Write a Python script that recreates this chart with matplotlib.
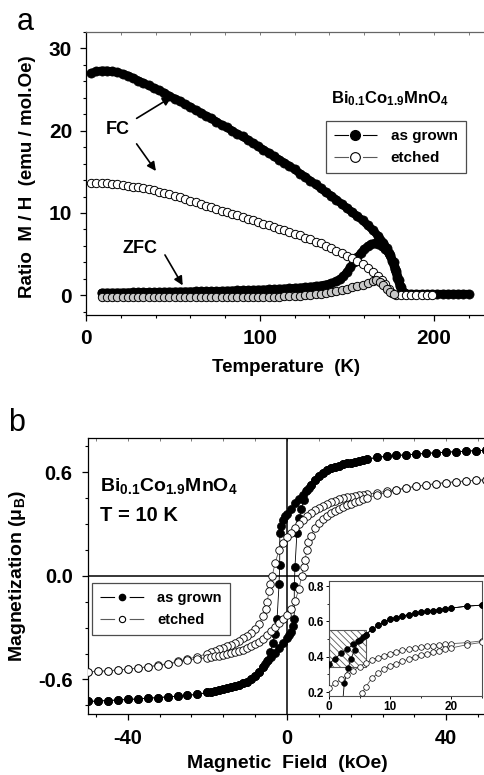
import matplotlib
matplotlib.use('Agg')
import matplotlib.pyplot as plt
from matplotlib.lines import Line2D
from matplotlib.patches import Rectangle
from matplotlib.ticker import MultipleLocator

plt.rcParams['font.family'] = 'Liberation Sans'
plt.rcParams['font.weight'] = 'bold'
plt.rcParams['mathtext.fontset'] = 'custom'
plt.rcParams['mathtext.rm'] = 'Liberation Sans:bold'
plt.rcParams['mathtext.bf'] = 'Liberation Sans:bold'
plt.rcParams['mathtext.it'] = 'Liberation Sans:bold'
plt.rcParams['mathtext.default'] = 'bf'
plt.rcParams['hatch.linewidth'] = 0.6
plt.rcParams['lines.scale_dashes'] = False

# ---- panel a : M/H vs temperature ----
t_fc_grown = [3, 6, 9, 12, 15, 18, 21, 24, 27, 30, 33, 36, 39, 42, 45, 48, 51, 54, 57, 60,
              63, 66, 69, 72, 75, 78, 81, 84, 87, 90, 93, 96, 99, 102, 105, 108, 111, 114,
              117, 120, 123, 126, 129, 132, 135, 138, 141, 144, 147, 150, 153, 156, 159,
              162, 165, 168, 171, 173, 175, 177, 178.5, 180, 181, 182, 184, 187, 190, 193,
              196, 199, 202, 205, 208, 211, 214, 217, 220]
m_fc_grown = [27.0, 27.2, 27.3, 27.3, 27.2, 27.1, 26.9, 26.7, 26.4, 26.1, 25.8, 25.5, 25.2,
              24.9, 24.6, 24.2, 23.9, 23.6, 23.2, 22.9, 22.5, 22.2, 21.8, 21.5, 21.1, 20.7,
              20.4, 20.0, 19.6, 19.3, 18.9, 18.5, 18.1, 17.7, 17.3, 16.9, 16.5, 16.1, 15.7,
              15.3, 14.8, 14.4, 13.9, 13.5, 13.0, 12.5, 12.1, 11.6, 11.1, 10.6, 10.1, 9.6,
              9.1, 8.5, 7.9, 7.2, 6.4, 5.7, 4.9, 4.0, 3.0, 1.9, 1.0, 0.4, 0.2, 0.15, 0.15,
              0.15, 0.15, 0.15, 0.15, 0.15, 0.15, 0.15, 0.15, 0.15, 0.15]

t_zfc_grown = [9, 12, 15, 18, 21, 24, 27, 30, 33, 36, 39, 42, 45, 48, 51, 54, 57, 60, 63, 66,
               69, 72, 75, 78, 81, 84, 87, 90, 93, 96, 99, 102, 105, 108, 111, 114, 117, 120,
               123, 126, 129, 132, 135, 138, 141, 144, 146, 148, 150, 152, 154, 156, 158,
               160, 162, 164, 166, 168, 170, 172, 174, 176, 177.5, 179, 180.5, 182, 184]
m_zfc_grown = [0.30, 0.30, 0.30, 0.31, 0.32, 0.33, 0.34, 0.35, 0.36, 0.37, 0.38, 0.39, 0.40,
               0.41, 0.42, 0.43, 0.44, 0.45, 0.46, 0.47, 0.48, 0.49, 0.50, 0.52, 0.54, 0.56,
               0.58, 0.60, 0.62, 0.64, 0.66, 0.68, 0.71, 0.74, 0.77, 0.80, 0.84, 0.88, 0.92,
               0.97, 1.03, 1.10, 1.18, 1.30, 1.45, 1.70, 1.95, 2.3, 2.8, 3.4, 4.0, 4.6, 5.1,
               5.6, 5.95, 6.2, 6.3, 6.25, 6.0, 5.6, 5.1, 4.2, 3.2, 2.1, 1.1, 0.4, 0.2]

t_fc_etched = [3, 6, 9, 12, 15, 18, 21, 24, 27, 30, 33, 36, 39, 42, 45, 48, 51, 54, 57, 60,
               63, 66, 69, 72, 75, 78, 81, 84, 87, 90, 93, 96, 99, 102, 105, 108, 111, 114,
               117, 120, 123, 126, 129, 132, 135, 138, 141, 144, 147, 150, 153, 156, 159,
               162, 165, 168, 170, 172, 174, 176, 178, 181, 184, 187, 190, 193, 196, 199]
m_fc_etched = [13.6, 13.65, 13.65, 13.6, 13.55, 13.5, 13.4, 13.3, 13.2, 13.1, 13.0, 12.9,
               12.75, 12.6, 12.45, 12.3, 12.1, 11.9, 11.7, 11.5, 11.3, 11.1, 10.9, 10.7, 10.5,
               10.3, 10.1, 9.9, 9.7, 9.5, 9.3, 9.1, 8.9, 8.7, 8.5, 8.3, 8.1, 7.9, 7.7, 7.5,
               7.3, 7.0, 6.8, 6.5, 6.3, 6.0, 5.7, 5.4, 5.1, 4.8, 4.5, 4.2, 3.8, 3.3, 2.8, 2.3,
               1.9, 1.4, 0.8, 0.3, 0.05, 0.0, 0.0, 0.0, 0.0, 0.0, 0.0, 0.0]

t_zfc_etched = [9, 12, 15, 18, 21, 24, 27, 30, 33, 36, 39, 42, 45, 48, 51, 54, 57, 60, 63,
                66, 69, 72, 75, 78, 81, 84, 87, 90, 93, 96, 99, 102, 105, 108, 111, 114, 117,
                120, 123, 126, 129, 132, 135, 138, 141, 144, 147, 150, 153, 156, 159, 162,
                165, 167, 169, 171, 173, 175, 177]
m_zfc_etched = [-0.25, -0.25, -0.25, -0.25, -0.25, -0.25, -0.25, -0.25, -0.25, -0.25, -0.25,
                -0.25, -0.25, -0.25, -0.25, -0.25, -0.25, -0.25, -0.25, -0.25, -0.25, -0.25,
                -0.25, -0.25, -0.25, -0.24, -0.24, -0.23, -0.23, -0.22, -0.22, -0.21, -0.20,
                -0.18, -0.16, -0.13, -0.10, -0.07, -0.03, 0.02, 0.07, 0.13, 0.20, 0.28, 0.38,
                0.50, 0.64, 0.80, 0.95, 1.10, 1.28, 1.50, 1.75, 1.90, 1.60, 1.20, 0.80, 0.40,
                0.10]

# ---- panel b : hysteresis loops at 10 K ----
h_grown_down = [50, 47.5, 45, 42.5, 40, 37.5, 35, 32.5, 30, 27.5, 25, 22.5,
                20, 19, 18, 17, 16, 15, 14, 13, 12, 11, 10, 9, 8, 7, 6, 5, 4, 3, 2, 1, 0,
                -0.5, -1, -1.5, -1.8, -1.84, -2.0, -2.5, -3.1, -3.6, -4.2, -4.8, -5.5,
                -6, -7, -8, -9, -10, -11, -12, -13, -14, -15, -16, -17, -18, -19, -20,
                -22.5, -25, -27.5, -30, -32.5, -35, -37.5, -40, -42.5, -45, -47.5, -50]
m_grown_down = [0.727, 0.725, 0.722, 0.719, 0.716, 0.713, 0.709, 0.705, 0.701, 0.697, 0.692,
                0.686, 0.675, 0.671, 0.666, 0.661, 0.656, 0.651, 0.645, 0.638, 0.630, 0.622,
                0.612, 0.598, 0.578, 0.555, 0.525, 0.495, 0.470, 0.445, 0.420, 0.390, 0.360,
                0.345, 0.325, 0.290, 0.250, 0.060, -0.050, -0.250, -0.335, -0.390, -0.440,
                -0.490, -0.510, -0.525, -0.555, -0.578, -0.598, -0.612, -0.622, -0.630,
                -0.638, -0.645, -0.651, -0.656, -0.661, -0.666, -0.671, -0.675, -0.686,
                -0.692, -0.697, -0.701, -0.705, -0.709, -0.713, -0.716, -0.719, -0.722,
                -0.725, -0.727]

h_grown_up = [-50, -47.5, -45, -42.5, -40, -37.5, -35, -32.5, -30, -27.5, -25, -22.5,
              -20, -19, -18, -17, -16, -15, -14, -13, -12, -11, -10, -9, -8, -7, -6, -5, -4,
              -3, -2, -1, 0, 0.5, 1, 1.5, 1.8, 1.84, 2.0, 2.5, 3.1, 3.6, 4.2, 4.8, 5.5,
              6, 7, 8, 9, 10, 11, 12, 13, 14, 15, 16, 17, 18, 19, 20,
              22.5, 25, 27.5, 30, 32.5, 35, 37.5, 40, 42.5, 45, 47.5, 50]
m_grown_up = [-0.727, -0.725, -0.722, -0.719, -0.716, -0.713, -0.709, -0.705, -0.701,
              -0.697, -0.692, -0.686, -0.675, -0.671, -0.666, -0.661, -0.656, -0.651,
              -0.645, -0.638, -0.630, -0.622, -0.612, -0.598, -0.578, -0.555, -0.525,
              -0.495, -0.470, -0.445, -0.420, -0.390, -0.360, -0.345, -0.325, -0.290,
              -0.250, -0.060, 0.050, 0.250, 0.335, 0.390, 0.440, 0.490, 0.510, 0.525, 0.555,
              0.578, 0.598, 0.612, 0.622, 0.630, 0.638, 0.645, 0.651, 0.656, 0.661, 0.666,
              0.671, 0.675, 0.686, 0.692, 0.697, 0.701, 0.705, 0.709, 0.713, 0.716, 0.719,
              0.722, 0.725, 0.727]

h_etched_down = [50, 47.5, 45, 42.5, 40, 37.5, 35, 32.5, 30, 27.5, 25, 22.5,
                 20, 19, 18, 17, 16, 15, 14, 13, 12, 11, 10, 9, 8, 7, 6, 5, 4, 3, 2, 1, 0,
                 -1, -2, -3, -3.7, -4.2, -4.5, -5, -5.4,
                 -6, -7, -8, -9, -10, -11, -12, -13, -14, -15, -16, -17, -18, -19, -20,
                 -22.5, -25, -27.5, -30, -32.5, -35, -37.5, -40, -42.5, -45, -47.5, -50]
m_etched_down = [0.556, 0.553, 0.550, 0.545, 0.540, 0.534, 0.527, 0.520, 0.511, 0.500, 0.490,
                 0.480, 0.474, 0.471, 0.467, 0.463, 0.459, 0.454, 0.449, 0.443, 0.436, 0.428,
                 0.418, 0.407, 0.395, 0.381, 0.365, 0.345, 0.322, 0.298, 0.275, 0.250, 0.225,
                 0.190, 0.148, 0.075, 0.0, -0.05, -0.09, -0.15, -0.194,
                 -0.230, -0.279, -0.307, -0.330, -0.348, -0.362, -0.375, -0.386, -0.398,
                 -0.408, -0.417, -0.426, -0.435, -0.443, -0.450,
                 -0.468, -0.482, -0.495, -0.508, -0.518, -0.526, -0.534, -0.540, -0.545,
                 -0.550, -0.553, -0.556]

h_etched_up = [-50, -47.5, -45, -42.5, -40, -37.5, -35, -32.5, -30, -27.5, -25, -22.5,
               -20, -19, -18, -17, -16, -15, -14, -13, -12, -11, -10, -9, -8, -7, -6, -5, -4,
               -3, -2, -1, 0, 1, 2, 3, 3.7, 4.2, 4.5, 5, 5.4,
               6, 7, 8, 9, 10, 11, 12, 13, 14, 15, 16, 17, 18, 19, 20,
               22.5, 25, 27.5, 30, 32.5, 35, 37.5, 40, 42.5, 45, 47.5, 50]
m_etched_up = [-0.556, -0.553, -0.550, -0.545, -0.540, -0.534, -0.527, -0.520, -0.511, -0.500,
               -0.490, -0.480, -0.474, -0.471, -0.467, -0.463, -0.459, -0.454, -0.449,
               -0.443, -0.436, -0.428, -0.418, -0.407, -0.395, -0.381, -0.365, -0.345,
               -0.322, -0.298, -0.275, -0.250, -0.225,
               -0.190, -0.148, -0.075, 0.0, 0.05, 0.09, 0.15, 0.194,
               0.230, 0.279, 0.307, 0.330, 0.348, 0.362, 0.375, 0.386, 0.398, 0.408, 0.417,
               0.426, 0.435, 0.443, 0.450,
               0.468, 0.482, 0.495, 0.508, 0.518, 0.526, 0.534, 0.540, 0.545, 0.550, 0.553,
               0.556]

GRAY = '#5a5a5a'
fig = plt.figure(figsize=(4.84, 7.75), dpi=100)


def style_ticks(ax, size, pad):
    ax.tick_params(which='major', direction='out', length=4, width=0.9,
                   labelsize=size, pad=pad)
    ax.tick_params(which='minor', direction='out', length=2.5, width=0.8)
    for lab in ax.get_xticklabels() + ax.get_yticklabels():
        lab.set_fontweight('bold')
    for s in ax.spines.values():
        s.set_linewidth(0.9)


def grown_series(ax, x, y, ms):
    # thick black band behind the dense filled points
    ax.plot(x, y, '-', color='k', lw=ms * 0.9, solid_capstyle='round', zorder=2)
    ax.plot(x, y, 'o', ms=ms, mfc='k', mec='k', mew=0.5, zorder=2)


# panel a
ax1 = fig.add_axes([86 / 484, 460 / 775, 400 / 484, 283 / 775])
grown_series(ax1, t_fc_grown, m_fc_grown, 6.6)
grown_series(ax1, t_zfc_grown, m_zfc_grown, 6.6)
ax1.plot(t_fc_etched, m_fc_etched, '-o', color=GRAY, lw=0.6, ms=6.0, mfc='white', mec='k',
         mew=0.7, zorder=3)
ax1.plot(t_zfc_etched, m_zfc_etched, '-o', color=GRAY, lw=0.6, ms=6.0, mfc='#c8c8c8',
         mec='k', mew=0.7, zorder=3)
ax1.set_xlim(0, 230)
ax1.set_ylim(-2.4, 32)
ax1.xaxis.set_major_locator(MultipleLocator(100))
ax1.xaxis.set_minor_locator(MultipleLocator(20))
ax1.yaxis.set_major_locator(MultipleLocator(10))
ax1.yaxis.set_minor_locator(MultipleLocator(2))
ax1.spines['right'].set_visible(False)
style_ticks(ax1, 15, 6)
ax1.spines['top'].set_color('0.4')
top1 = ax1.secondary_xaxis('top')
top1.xaxis.set_major_locator(MultipleLocator(20))
top1.tick_params(direction='in', length=2, width=0.6, labeltop=False, color='0.4')
top1.spines['top'].set_visible(False)
ax1.set_xlabel('Temperature  (K)', fontsize=13.5, fontweight='bold')
ax1.set_ylabel('Ratio  M / H  (emu / mol.Oe)', fontsize=13.5, fontweight='bold')
ax1.xaxis.set_label_coords(0.5, -0.155)
ax1.yaxis.set_label_coords(-0.125, 0.49)

ax1.text(174.7, 23.9, 'Bi$_{0.1}$Co$_{1.9}$MnO$_4$', fontsize=12, fontweight='bold',
         ha='center', va='center')
ax1.text(18.4, 20.2, 'FC', fontsize=13, fontweight='bold', ha='center', va='center')
ax1.text(31.0, 5.7, 'ZFC', fontsize=13, fontweight='bold', ha='center', va='center')
arrow = dict(arrowstyle='-|>', color='k', lw=1.2, mutation_scale=13, shrinkA=0, shrinkB=0)
ax1.annotate('', xy=(49.2, 24.1), xytext=(29.1, 21.5), arrowprops=arrow)
ax1.annotate('', xy=(40.2, 15.1), xytext=(29.1, 18.4), arrowprops=arrow)
ax1.annotate('', xy=(55.6, 1.2), xytext=(45.4, 4.9), arrowprops=arrow)

# legend handles drawn as "--o--": dash, gap, marker, gap, dash
dash_a = (0, (10.5, 10, 10.5, 100))
h_grown_a = Line2D([], [], color='k', lw=0.8, ls=dash_a, marker='o', ms=7,
                   mfc='k', mec='k')
h_etched_a = Line2D([], [], color=GRAY, lw=0.8, ls=dash_a, marker='o', ms=7,
                    mfc='white', mec='k', mew=0.8)
leg1 = ax1.legend([h_grown_a, h_etched_a], ['as grown', 'etched'], loc='upper left',
                  bbox_to_anchor=(0.599, 0.6855), borderaxespad=0, fancybox=False,
                  framealpha=1, edgecolor='0.3', prop={'size': 11, 'weight': 'bold'},
                  handlelength=2.8, handletextpad=0.9, borderpad=0.55, labelspacing=0.5)
leg1.get_frame().set_linewidth(0.9)

fig.text(25 / 484, 1 - 22 / 775, 'a', fontsize=22, fontweight='normal', ha='center', va='center')
fig.text(17 / 484, 1 - 423 / 775, 'b', fontsize=22, fontweight='normal', ha='center', va='center')

# panel b
ax2 = fig.add_axes([88 / 484, 61 / 775, 398 / 484, 276.3 / 775])
ax2.axhline(0, color='k', lw=1.1, zorder=1)
ax2.axvline(0, color='k', lw=1.1, zorder=1)
ax2.plot(h_grown_down, m_grown_down, '-o', color='k', lw=0.6, ms=5.8, mfc='k', mec='k', mew=0.5, zorder=3)
ax2.plot(h_grown_up, m_grown_up, '-o', color='k', lw=0.6, ms=5.8, mfc='k', mec='k', mew=0.5, zorder=3)
ax2.plot(h_etched_down, m_etched_down, '-o', color=GRAY, lw=0.6, ms=5.4, mfc='white', mec='k', mew=0.6, zorder=4)
ax2.plot(h_etched_up, m_etched_up, '-o', color=GRAY, lw=0.6, ms=5.4, mfc='white', mec='k', mew=0.6, zorder=4)
ax2.set_xlim(-50, 50)
ax2.set_ylim(-0.8, 0.8)
ax2.xaxis.set_minor_locator(MultipleLocator(8))
ax2.yaxis.set_minor_locator(MultipleLocator(0.15))
ax2.set_yticks([-0.6, 0.0, 0.6])
ax2.set_yticklabels(['-0.6', '0.0', '0.6'])
ax2.set_xticks([-40, 0, 40])
ax2.set_xticklabels(['-40', '0', '40'])
ax2.spines['right'].set_visible(False)
style_ticks(ax2, 14.5, 7)
top2 = ax2.secondary_xaxis('top')
top2.xaxis.set_major_locator(MultipleLocator(8))
top2.tick_params(direction='in', length=2, width=0.6, labeltop=False, color='0.4')
top2.spines['top'].set_visible(False)
ax2.set_xlabel('Magnetic  Field  (kOe)', fontsize=14, fontweight='bold')
ax2.set_ylabel('Magnetization (μ$_{B}$)', fontsize=14, fontweight='bold')
ax2.xaxis.set_label_coords(0.5, -0.15)
ax2.yaxis.set_label_coords(-0.15, 0.5)

ax2.text(-46.9, 0.523, 'Bi$_{0.1}$Co$_{1.9}$MnO$_4$', fontsize=14, fontweight='bold',
         ha='left', va='center')
ax2.text(-46.9, 0.35, 'T = 10 K', fontsize=14.5, fontweight='bold', ha='left', va='center')

dash_b = (0, (10.5, 10.5, 10.5, 100))
h_grown_b = Line2D([], [], color='k', lw=0.8, ls=dash_b, marker='o', ms=4.5,
                   mfc='k', mec='k')
h_etched_b = Line2D([], [], color=GRAY, lw=0.8, ls=dash_b, marker='o', ms=4.5,
                    mfc='white', mec='k', mew=0.8)
leg2 = ax2.legend([h_grown_b, h_etched_b], ['as grown', 'etched'], loc='upper left',
                  bbox_to_anchor=(0.011, 0.473), borderaxespad=0, fancybox=False,
                  framealpha=1, edgecolor='0.3', prop={'size': 10.5, 'weight': 'bold'},
                  handlelength=3.0, handletextpad=0.9, borderpad=0.55, labelspacing=0.5)
leg2.get_frame().set_linewidth(0.9)

# inset
ax3 = fig.add_axes([329 / 484, 79.3 / 775, 153 / 484, 115 / 775])
ax3.add_patch(Rectangle((0, 0.34), 6, 0.21, facecolor='white', edgecolor='0.35',
                        hatch='\\\\\\\\\\', lw=0.8, zorder=1))
ax3.plot(h_grown_down, m_grown_down, '-o', color='k', lw=0.6, ms=4.2, mfc='k', mec='k', mew=0.4, zorder=3)
ax3.plot(h_grown_up, m_grown_up, '-o', color='k', lw=0.6, ms=4.2, mfc='k', mec='k', mew=0.4, zorder=3)
ax3.plot(h_etched_down, m_etched_down, '-o', color=GRAY, lw=0.6, ms=4.0, mfc='white', mec='k', mew=0.5, zorder=4)
ax3.plot(h_etched_up, m_etched_up, '-o', color=GRAY, lw=0.6, ms=4.0, mfc='white', mec='k', mew=0.5, zorder=4)
ax3.set_xlim(0, 25)
ax3.set_ylim(0.18, 0.83)
ax3.xaxis.set_major_locator(MultipleLocator(10))
ax3.xaxis.set_minor_locator(MultipleLocator(5))
ax3.yaxis.set_major_locator(MultipleLocator(0.2))
ax3.yaxis.set_minor_locator(MultipleLocator(0.1))
ax3.tick_params(which='major', direction='out', length=2.5, width=0.7, labelsize=8.5, pad=1.5)
ax3.tick_params(which='minor', direction='out', length=1.5, width=0.6)
for lab in ax3.get_xticklabels() + ax3.get_yticklabels():
    lab.set_fontweight('bold')
for s in ax3.spines.values():
    s.set_linewidth(0.8)
    s.set_color('0.3')

fig.savefig('out.png', dpi=100)
